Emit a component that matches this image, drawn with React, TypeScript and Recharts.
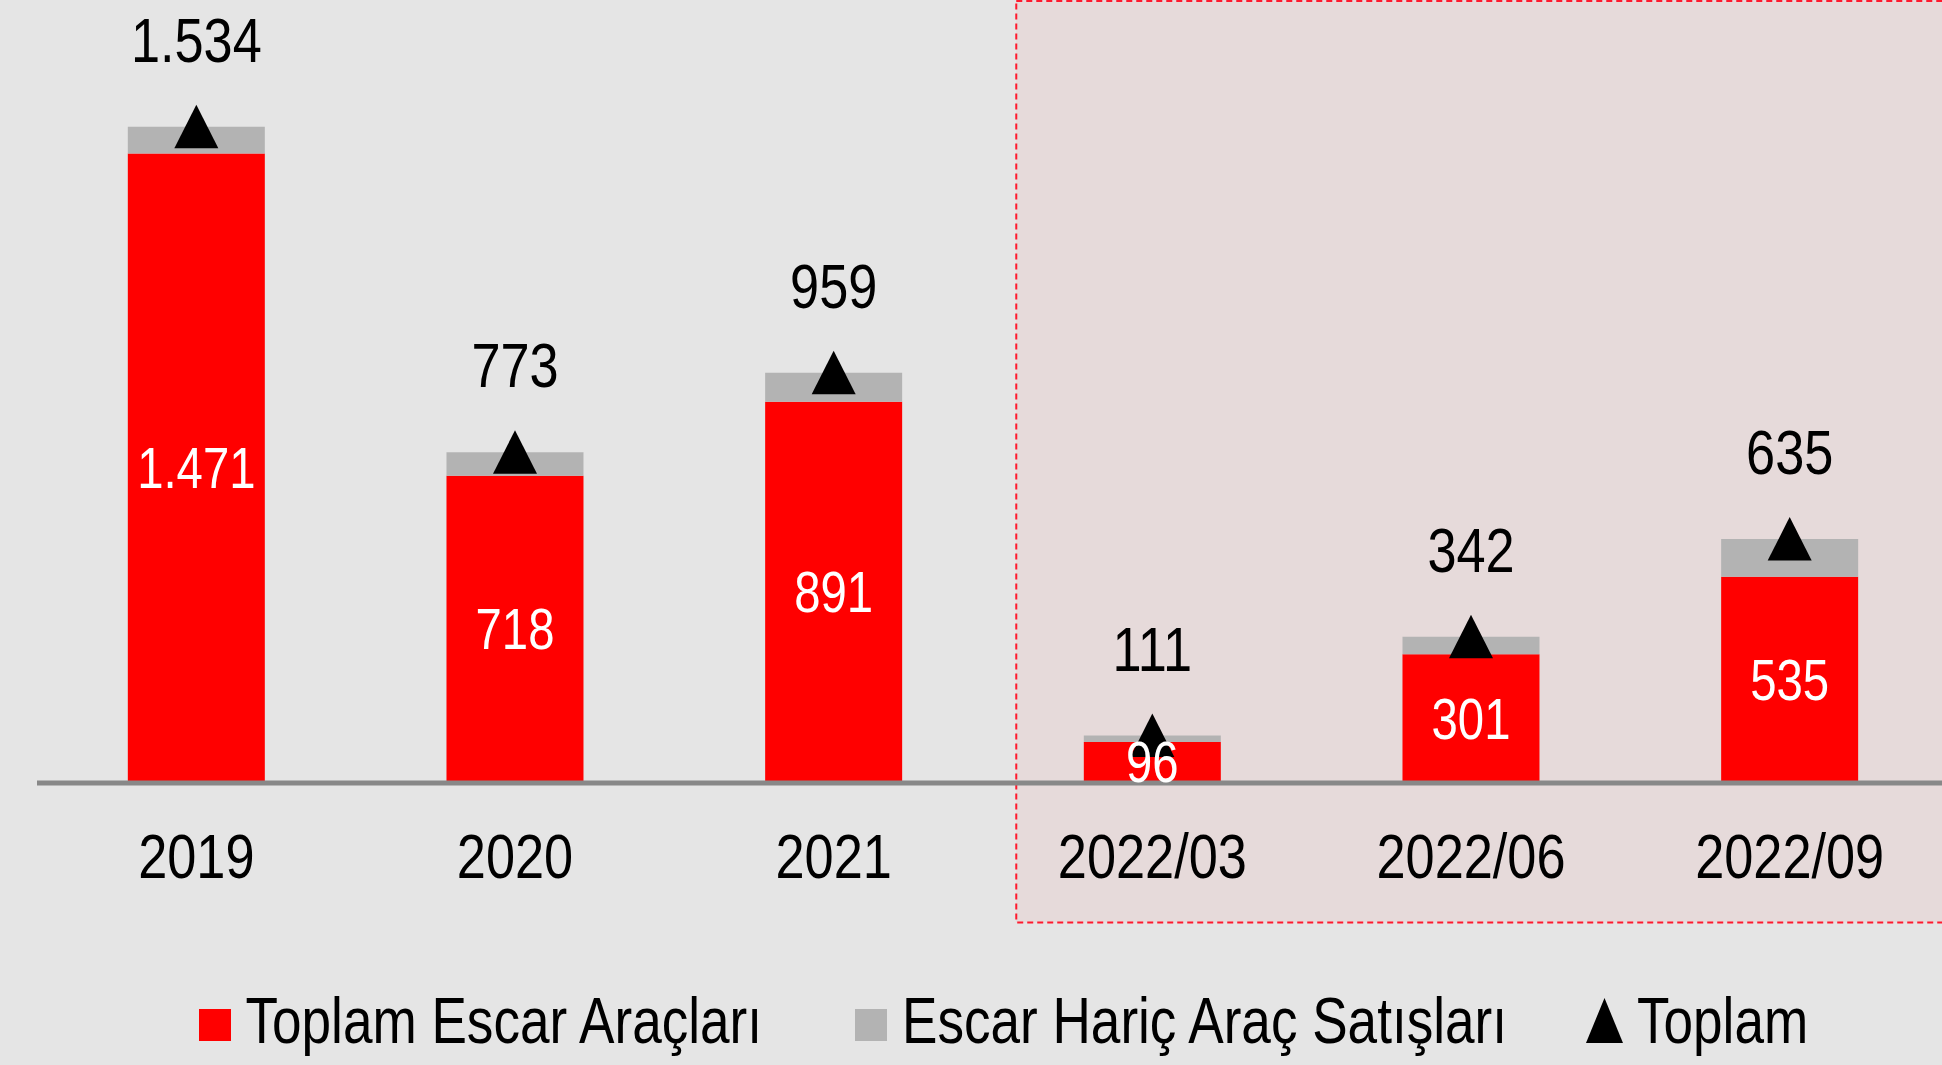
import React from 'react';
import { ComposedChart, Bar, Line, XAxis, YAxis, ReferenceArea, LabelList, Legend } from 'recharts';

const categories = ['2019', '2020', '2021', '2022/03', '2022/06', '2022/09'];
// bar heights as drawn in the picture
const escarValues = [1471, 718, 891, 96, 301, 482];
const otherValues = [63, 55, 68, 15, 41, 88];
const totalValues = [1534, 773, 959, 111, 342, 570];
// value labels as printed in the picture
const escarLabels = ['1.471', '718', '891', '96', '301', '535'];
const totalLabels = ['1.534', '773', '959', '111', '342', '635'];
const seriesNames = ['Toplam Escar Araçları', 'Escar Hariç Araç Satışları', 'Toplam'];
const highlightFrom = '2022/03';
const highlightTo = '2022/09';
const highlightInset = 0.073;
const highlightBottom = -326;
const yMax = 1830;

const data = categories.map((c, i) => ({
  name: c,
  escar: escarValues[i],
  other: otherValues[i],
  total: totalValues[i],
  escarLabel: escarLabels[i],
  totalLabel: totalLabels[i],
}));

const FONT = "'Liberation Sans', Arial, sans-serif";
const SX = 0.83;

const NText = ({ x, y, size, fill, anchor = 'middle', children }: any) => (
  <text
    transform={`translate(${x},${y}) scale(${SX},1)`}
    textAnchor={anchor}
    fontFamily={FONT}
    fontSize={size}
    fill={fill}
  >
    {children}
  </text>
);

const Triangle = (props: any) => {
  const { cx, cy } = props;
  if (cx == null || cy == null) return null;
  return <path d={`M${cx},${cy - 22} L${cx + 22},${cy + 21.5} L${cx - 22},${cy + 21.5} Z`} fill="#000" />;
};

const TotalLabel = (props: any) => {
  const { x, y, value } = props;
  return <NText x={x} y={y - 65} size={63} fill="#000">{value}</NText>;
};

const InnerLabel = (props: any) => {
  const { x, y, width, height, value } = props;
  return <NText x={x + width / 2} y={y + height / 2 + 20} size={57} fill="#fff">{value}</NText>;
};

const Tick = (props: any) => {
  const { x, y, payload } = props;
  return <NText x={x} y={y + 95} size={63} fill="#000">{payload.value}</NText>;
};

const HighlightShape = (props: any) => {
  const { x, y, width, height } = props;
  const band = width / 3;
  const left = x + highlightInset * band;
  const w = x + width - left;
  return (
    <g>
      <rect x={left} y={y} width={w} height={height} fill="#E6DADA" />
      <rect x={left} y={y + 1} width={w} height={height - 1} fill="none" stroke="#FF1A2E" strokeWidth={2} strokeDasharray="6 4" />
    </g>
  );
};

const LegendContent = () => (
  <svg width={1942} height={82} style={{ display: 'block' }}>
    <rect x={199} y={29} width={32} height={32} fill="#FF0000" />
    <NText x={245.5} y={63} size={64} fill="#000" anchor="start">{seriesNames[0]}</NText>
    <rect x={855} y={29} width={32} height={32} fill="#B3B3B3" />
    <NText x={902} y={63} size={64} fill="#000" anchor="start">{seriesNames[1]}</NText>
    <path d="M1604.5,18 L1623,63 L1586,63 Z" fill="#000" />
    <NText x={1637} y={63} size={64} fill="#000" anchor="start">{seriesNames[2]}</NText>
  </svg>
);

export default function App() {
  return (
    <div style={{ position: 'absolute', left: 0, top: 0, width: 1942, height: 1065, overflow: 'hidden', background: '#E5E5E5' }}>
      <ComposedChart
        width={1950}
        height={1065}
        data={data}
        margin={{ top: 0, right: 1, left: 37, bottom: 182 }}
        barCategoryGap="28.5%"
      >
        <XAxis
          dataKey="name"
          height={100}
          tickLine={false}
          tickSize={0}
          tickMargin={0}
          axisLine={{ stroke: '#888888', strokeWidth: 5 }}
          tick={<Tick />}
          interval={0}
        />
        <YAxis hide domain={[0, yMax]} allowDataOverflow />
        <ReferenceArea
          x1={highlightFrom}
          x2={highlightTo}
          y1={highlightBottom}
          y2={yMax}
          ifOverflow="visible"
          shape={<HighlightShape />}
        />
        <Bar dataKey="escar" stackId="a" fill="#FF0000" isAnimationActive={false} name={seriesNames[0]}>
          <LabelList dataKey="escarLabel" content={<InnerLabel />} />
        </Bar>
        <Bar dataKey="other" stackId="a" fill="#B3B3B3" isAnimationActive={false} name={seriesNames[1]} />
        <Line
          dataKey="total"
          stroke="none"
          dot={<Triangle />}
          activeDot={false}
          isAnimationActive={false}
          name={seriesNames[2]}
        >
          <LabelList dataKey="totalLabel" content={<TotalLabel />} />
        </Line>
        <Legend
          layout="horizontal"
          verticalAlign="middle"
          align="center"
          content={<LegendContent />}
          wrapperStyle={{ top: 980, left: 0, width: 1942, height: 82 }}
        />
      </ComposedChart>
    </div>
  );
}
